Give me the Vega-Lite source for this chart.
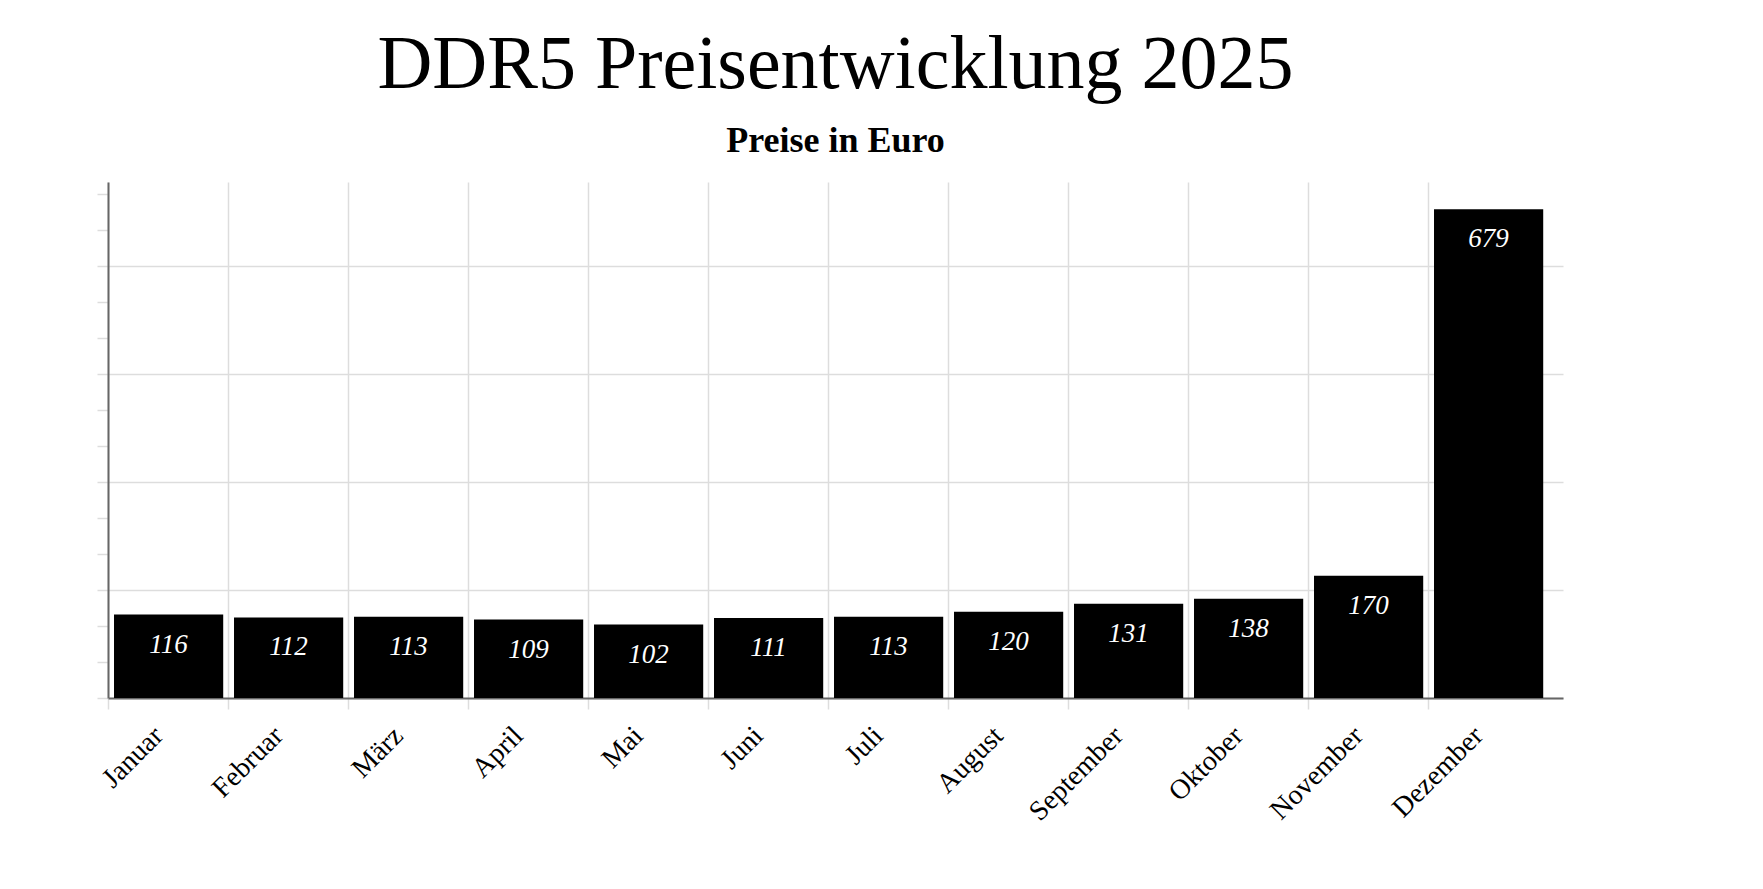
{
  "$schema": "https://vega.github.io/schema/vega-lite/v6.json",
  "autosize": {"type": "none"},
  "width": 1455,
  "height": 516,
  "padding": {"left": 108, "top": 182, "right": 200, "bottom": 191},
  "background": "white",
  "title": {
    "text": "DDR5 Preisentwicklung 2025",
    "subtitle": "Preise in Euro",
    "anchor": "middle",
    "font": "Liberation Serif",
    "fontSize": 76,
    "fontWeight": "normal",
    "color": "black",
    "subtitleFont": "Liberation Serif",
    "subtitleFontSize": 36,
    "subtitleFontWeight": "bold",
    "subtitleColor": "black",
    "subtitlePadding": 20,
    "offset": 22
  },
  "data": {
    "values": [
      {"Monat": "Januar", "Preis": 116},
      {"Monat": "Februar", "Preis": 112},
      {"Monat": "März", "Preis": 113},
      {"Monat": "April", "Preis": 109},
      {"Monat": "Mai", "Preis": 102},
      {"Monat": "Juni", "Preis": 111},
      {"Monat": "Juli", "Preis": 113},
      {"Monat": "August", "Preis": 120},
      {"Monat": "September", "Preis": 131},
      {"Monat": "Oktober", "Preis": 138},
      {"Monat": "November", "Preis": 170},
      {"Monat": "Dezember", "Preis": 679}
    ]
  },
  "encoding": {
    "x": {
      "field": "Monat",
      "type": "nominal",
      "sort": null,
      "scale": {"paddingInner": 0.09, "paddingOuter": 0.1075, "align": 0.233},
      "axis": {
        "title": null,
        "labelAngle": -45,
        "labelAlign": "right",
        "labelBaseline": "alphabetic",
        "labelFont": "Liberation Serif",
        "labelFontSize": 28,
        "labelColor": "black",
        "labelPadding": 28,
        "labelOffset": -4,
        "bandPosition": -0.0495,
        "grid": true,
        "gridColor": "#dddddd",
        "gridWidth": 1.5,
        "tickColor": "#dddddd",
        "tickWidth": 1.5,
        "tickSize": 11,
        "domainColor": "#666666",
        "domainWidth": 2
      }
    },
    "y": {
      "field": "Preis",
      "type": "quantitative",
      "scale": {"domain": [0, 717], "nice": false},
      "axis": {
        "title": null,
        "labels": false,
        "values": [0, 50, 100, 150, 200, 250, 300, 350, 400, 450, 500, 550, 600, 650, 700],
        "tickColor": "#dddddd",
        "tickWidth": 1.5,
        "tickSize": 11,
        "grid": true,
        "gridWidth": 1.5,
        "gridColor": {"condition": {"test": "datum.value % 150 === 0", "value": "#dddddd"}, "value": "transparent"},
        "domainColor": "#666666",
        "domainWidth": 2
      }
    }
  },
  "layer": [
    {
      "mark": {"type": "bar", "color": "black"}
    },
    {
      "mark": {
        "type": "text",
        "color": "white",
        "font": "Liberation Serif",
        "fontStyle": "italic",
        "fontSize": 27,
        "baseline": "middle",
        "dy": 30
      },
      "encoding": {
        "text": {"field": "Preis", "type": "quantitative"}
      }
    }
  ],
  "config": {"view": {"stroke": null}}
}
